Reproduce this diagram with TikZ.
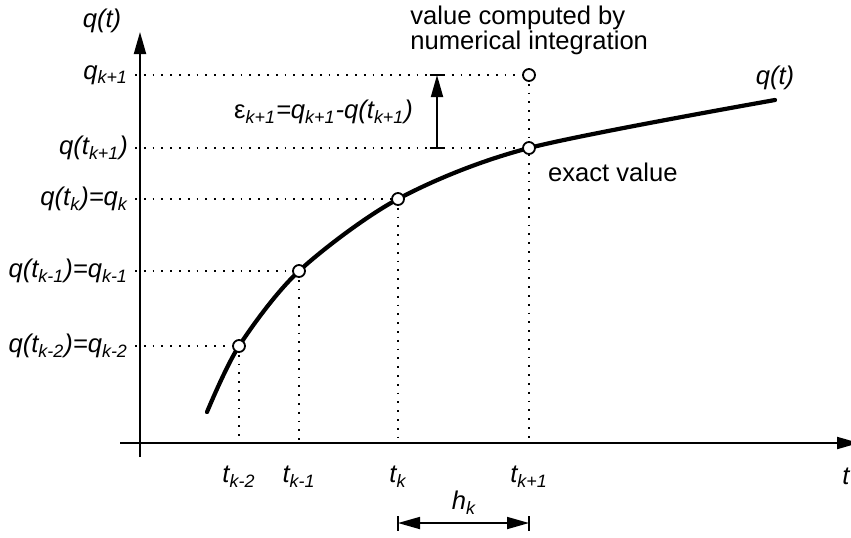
\documentclass[tikz,border=0pt]{standalone}
\usepackage{fontspec}
\setmainfont{Liberation Sans}
\usetikzlibrary{arrows.meta, positioning}
\tikzset{
  axis/.style={line width=1pt, -{Triangle[length=11pt,width=6pt]}},
  guide/.style={line width=0.9pt, dash pattern=on 0.9pt off 3.5pt},
  curve/.style={line width=2.1pt, line cap=round},
  sample/.style={circle, draw, fill=white, line width=0.9pt, minimum size=6pt, inner sep=0pt},
  dimline/.style={line width=0.9pt},
  txt/.style={font=\fontsize{12.8pt}{12.5pt}\selectfont},
  lbl/.style={font=\fontsize{12.8pt}{12.5pt}\selectfont\itshape}
}

\begin{document}
\begin{tikzpicture}[x=0.5pt, y=-0.5pt]
\useasboundingbox (0,0) rectangle (851,537);
% axes
\coordinate (o) at (140,443);
\coordinate (xstart) at (120,443);
\coordinate (xend) at (859,443);
\coordinate (ystart) at (140,457);
\coordinate (yend) at (140,32);
\draw[axis] (xstart) -- (xend);
\draw[axis] (ystart) -- (yend);

% points on the curve
\coordinate (c0) at (207,412);
\coordinate (c1) at (239,346);
\coordinate (c2) at (299,271);
\coordinate (c3) at (398,199);
\coordinate (c4) at (529,148);
\coordinate (c5) at (775,100);
\coordinate (qn) at (529,75);

% labels on the q axis
\node[lbl] (qaxis) at (102,21) {q(t)};
\node[lbl, anchor=east] (lq) at (135,75) {q\textsubscript{k+1}};
\node[lbl, anchor=east] (l4) at (135,148) {q(t\textsubscript{k+1})};
\node[lbl, anchor=east] (l3) at (135,199) {q(t\textsubscript{k})=q\textsubscript{k}};
\node[lbl, anchor=east] (l2) at (135,271) {q(t\textsubscript{k-1})=q\textsubscript{k-1}};
\node[lbl, anchor=east] (l1) at (135,346) {q(t\textsubscript{k-2})=q\textsubscript{k-2}};

% labels on the t axis
\node[lbl] (t1) at (239,477) {t\textsubscript{k-2}};
\node[lbl] (t2) at (299,477) {t\textsubscript{k-1}};
\node[lbl] (t3) at (398,477) {t\textsubscript{k}};
\node[lbl] (t4) at (529,477) {t\textsubscript{k+1}};
\node[lbl] (taxis) at (846,476) {t};

% dotted guides
\draw[guide] (lq.east) -- (qn);
\draw[guide] (l4.east) -- (c4);
\draw[guide] (l3.east) -- (c3);
\draw[guide] (l2.east) -- (c2);
\draw[guide] (l1.east) -- (c1);
\draw[guide] (qn) -- (qn |- o);
\foreach \c in {c1,c2,c3}
  \draw[guide] (\c) -- (\c |- o);

% the solution curve
\draw[curve] plot[smooth] coordinates {(c0) (c1) (c2) (c3) (c4) (c5)};
\foreach \c in {c1,c2,c3,c4,qn}
  \node[sample] (s-\c) at (\c) {};

% error of the step
\coordinate (e0) at (437,148);
\coordinate (e1) at (437,75);
\draw[dimline, -{Triangle[length=11pt,width=6pt]}] (e0) -- (e1);
\draw[dimline] ([xshift=-3.75pt]e0) -- ([xshift=3.75pt]e0);
\draw[dimline] ([xshift=-3.75pt]e1) -- ([xshift=3.75pt]e1);
\node[lbl, anchor=east] (err) at (420,112) {{\upshape ε}\textsubscript{k+1}=q\textsubscript{k+1}-q(t\textsubscript{k+1})};

% step size
\coordinate (h0) at (398,523);
\coordinate (h1) at (529,523);
\draw[dimline, {Triangle[length=11pt,width=6pt]}-{Triangle[length=11pt,width=6pt]}] (h0) -- (h1);
\draw[dimline] ([yshift=-3.75pt]h0) -- ([yshift=3.75pt]h0);
\draw[dimline] ([yshift=-3.75pt]h1) -- ([yshift=3.75pt]h1);
\node[lbl] (hk) at (464,503) {h\textsubscript{k}};

% texts
\node[txt, anchor=west] (exact) at (541,172) {exact value};
\node[txt, anchor=north west, align=left, inner sep=0pt] (numint) at (410,6) {value computed by\\numerical integration};
\node[lbl] (qcurve) at (775,78) {q(t)};
\end{tikzpicture}
\end{document}
